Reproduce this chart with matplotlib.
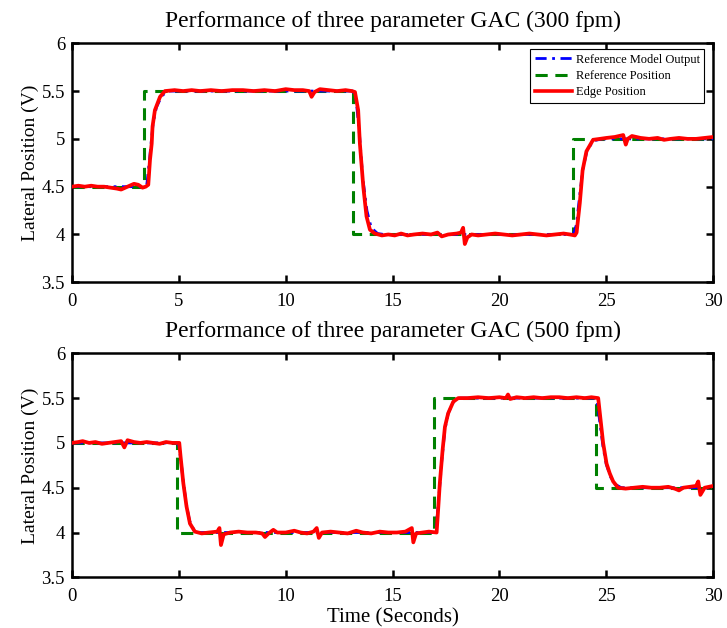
import matplotlib
matplotlib.use("Agg")
import matplotlib.pyplot as plt
from matplotlib.lines import Line2D

# ---- data ----
titles = [
    "Performance of three parameter GAC (300 fpm)",
    "Performance of three parameter GAC (500 fpm)",
]
x_ticks = [0, 5, 10, 15, 20, 25, 30]
y_ticks = [3.5, 4, 4.5, 5, 5.5, 6]
y_tick_labels = ["3.5", "4", "4.5", "5", "5.5", "6"]

# reference position (step changes)
ref_t_300 = [0, 3.38, 13.13, 23.45, 30]
ref_v_300 = [4.5, 5.5, 4.0, 5.0, 5.0]
ref_t_500 = [0, 4.90, 16.95, 24.51, 30]
ref_v_500 = [5.0, 4.0, 5.5, 4.5, 4.5]

# reference model output
model_t_300 = [0, 3.38, 3.5, 3.6, 3.7, 3.8, 3.95, 4.2, 4.5, 13.13, 13.3, 13.45,
               13.6, 13.8, 14.0, 14.3, 14.6, 23.45, 23.6, 23.75, 23.9, 24.1,
               24.4, 24.8, 30]
model_v_300 = [4.5, 4.5, 4.52, 4.72, 4.95, 5.17, 5.33, 5.45, 5.5, 5.5, 5.40, 5.05,
               4.60, 4.25, 4.07, 4.01, 4.0, 4.0, 4.10, 4.40, 4.68, 4.88,
               4.98, 5.0, 5.0]
model_t_500 = [0, 4.90, 5.0, 5.1, 5.2, 5.35, 5.5, 5.7, 6.0, 16.95, 17.05, 17.15,
               17.3, 17.45, 17.6, 17.85, 18.1, 24.51, 24.6, 24.7, 24.85, 25.0,
               25.2, 25.4, 25.7, 30]
model_v_500 = [5.0, 5.0, 4.97, 4.80, 4.58, 4.32, 4.13, 4.03, 4.0, 4.0, 4.08, 4.35,
               4.80, 5.15, 5.33, 5.46, 5.5, 5.5, 5.42, 5.22, 4.95, 4.76,
               4.62, 4.54, 4.5, 4.5]

# measured edge position
edge_t_300 = [0.0, 0.3, 0.6, 0.9, 1.2, 1.5, 1.8, 2.1, 2.3, 2.5, 2.7, 2.9, 3.1, 3.3,
              3.45, 3.57, 3.65, 3.73, 3.77, 3.88, 4.12, 4.35, 4.8, 5.2, 5.6, 6.0,
              6.5, 7.0, 7.5, 8.0, 8.5, 9.0, 9.5, 10.0, 10.4, 10.8, 11.1, 11.21,
              11.35, 11.6, 12.0, 12.4, 12.8, 13.1, 13.24, 13.39, 13.47, 13.63,
              13.78, 13.94, 14.17, 14.5, 14.8, 15.1, 15.4, 15.7, 16.0, 16.4, 16.8,
              17.1, 17.3, 17.6, 18.0, 18.2, 18.3, 18.38, 18.5, 18.7, 19.0, 19.4,
              19.8, 20.2, 20.6, 21.0, 21.4, 21.8, 22.2, 22.6, 23.0, 23.3, 23.53,
              23.61, 23.76, 23.89, 24.07, 24.38, 24.7, 25.01, 25.4, 25.79, 25.91,
              26.0, 26.2, 26.6, 27.0, 27.4, 27.7, 28.0, 28.4, 28.8, 29.2, 29.6, 30.0]
edge_v_300 = [4.50, 4.51, 4.50, 4.51, 4.50, 4.50, 4.49, 4.48, 4.47, 4.49, 4.51, 4.53,
              4.52, 4.49, 4.50, 4.52, 4.78, 4.95, 5.13, 5.30, 5.44, 5.50, 5.51,
              5.50, 5.51, 5.50, 5.51, 5.50, 5.51, 5.51, 5.50, 5.51, 5.50, 5.52,
              5.51, 5.51, 5.50, 5.44, 5.49, 5.52, 5.51, 5.50, 5.51, 5.50, 5.49,
              5.30, 4.95, 4.50, 4.19, 4.05, 4.01, 3.99, 4.00, 3.99, 4.01, 3.99,
              4.00, 4.01, 4.00, 4.02, 3.98, 4.00, 4.01, 4.02, 4.07, 3.90, 3.97,
              4.00, 3.99, 4.00, 4.01, 4.00, 3.99, 4.00, 4.01, 4.00, 3.99, 4.00,
              4.01, 4.00, 3.99, 4.02, 4.33, 4.67, 4.87, 4.99, 5.00, 5.01, 5.02,
              5.04, 4.94, 5.00, 5.03, 5.01, 5.00, 5.01, 4.99, 5.00, 5.01, 5.00,
              5.00, 5.01, 5.02]
edge_t_500 = [0.0, 0.3, 0.5, 0.8, 1.1, 1.4, 1.7, 2.0, 2.3, 2.45, 2.6, 2.9, 3.2, 3.5,
              3.8, 4.1, 4.4, 4.7, 5.02, 5.08, 5.21, 5.36, 5.52, 5.75, 6.07, 6.4,
              6.8, 6.9, 6.97, 7.1, 7.4, 7.8, 8.2, 8.6, 8.9, 9.03, 9.2, 9.42, 9.6,
              10.0, 10.4, 10.7, 11.0, 11.3, 11.45, 11.55, 11.7, 12.1, 12.5, 12.9,
              13.3, 13.6, 14.0, 14.4, 14.8, 15.2, 15.6, 15.9, 15.97, 16.1, 16.4,
              16.7, 17.06, 17.13, 17.21, 17.34, 17.45, 17.60, 17.84, 18.07, 18.5,
              19.0, 19.5, 20.0, 20.3, 20.4, 20.5, 20.8, 21.2, 21.6, 22.0, 22.4,
              22.8, 23.2, 23.6, 24.0, 24.3, 24.62, 24.73, 24.85, 25.01, 25.16,
              25.32, 25.55, 25.9, 26.3, 26.7, 27.1, 27.5, 27.9, 28.2, 28.4, 28.6,
              28.9, 29.2, 29.3, 29.4, 29.6, 29.8, 30.0]
edge_v_500 = [5.00, 5.01, 5.02, 5.00, 5.01, 4.99, 5.00, 5.01, 5.02, 4.95, 5.03, 5.01,
              5.00, 5.01, 5.00, 4.99, 5.01, 5.00, 5.00, 4.85, 4.55, 4.29, 4.10,
              4.01, 3.99, 4.00, 4.01, 4.05, 3.86, 3.98, 4.00, 4.01, 4.00, 4.00,
              3.99, 3.95, 3.99, 4.03, 4.00, 4.00, 4.02, 4.00, 3.99, 4.01, 4.05,
              3.94, 4.00, 4.01, 4.00, 3.99, 4.02, 4.00, 3.99, 4.01, 4.00, 4.00,
              4.01, 4.05, 3.89, 3.99, 4.00, 4.01, 4.00, 4.25, 4.55, 4.92, 5.18,
              5.33, 5.46, 5.50, 5.50, 5.51, 5.50, 5.51, 5.50, 5.54, 5.49, 5.51,
              5.50, 5.51, 5.50, 5.51, 5.51, 5.50, 5.51, 5.50, 5.51, 5.50, 5.26,
              5.00, 4.77, 4.66, 4.57, 4.50, 4.49, 4.50, 4.51, 4.50, 4.50, 4.51,
              4.49, 4.47, 4.50, 4.51, 4.52, 4.57, 4.42, 4.50, 4.51, 4.52]

SERIF = "Liberation Serif"
GREEN = "#008000"
DASH = (0, (4, 2.5))
DASHDOT = (0, (4, 2, 1, 2))


def draw_panel(ax, title, ref_t, ref_v, model_t, model_v, edge_t, edge_v):
    ax.plot(ref_t, ref_v, color=GREEN, lw=2.2, linestyle=DASH,
            drawstyle="steps-post", zorder=2)
    ax.plot(model_t, model_v, color="blue", lw=2.0, linestyle=DASHDOT, zorder=3)
    ax.plot(edge_t, edge_v, color="red", lw=2.7, zorder=4)

    ax.set_xlim(0, 30)
    ax.set_ylim(3.5, 6)
    ax.set_xticks(x_ticks)
    ax.set_yticks(y_ticks)
    ax.set_yticklabels(y_tick_labels)
    ax.tick_params(direction="in", top=True, right=True, length=5, width=1.8,
                   labelsize=13.5)
    ax.tick_params(axis="x", pad=8)
    ax.tick_params(axis="y", pad=5)
    for lab in ax.get_xticklabels() + ax.get_yticklabels():
        lab.set_fontfamily(SERIF)
    for sp in ax.spines.values():
        sp.set_linewidth(1.8)
    ax.set_title(title, fontsize=17, family=SERIF, pad=12)
    ax.set_ylabel("Lateral Position (V)", fontsize=14, family=SERIF, labelpad=2)


fig = plt.figure(figsize=(7.27, 6.28), dpi=100)
ax1 = fig.add_axes([0.099, 0.5505, 0.882, 0.3806])
ax2 = fig.add_axes([0.099, 0.0807, 0.882, 0.3567])

draw_panel(ax1, titles[0], ref_t_300, ref_v_300, model_t_300, model_v_300,
           edge_t_300, edge_v_300)
draw_panel(ax2, titles[1], ref_t_500, ref_v_500, model_t_500, model_v_500,
           edge_t_500, edge_v_500)
ax2.set_xlabel("Time (Seconds)", fontsize=15, family=SERIF, labelpad=2)

handles = [
    Line2D([], [], color="blue", lw=2.0, linestyle=DASHDOT),
    Line2D([], [], color=GREEN, lw=2.2, linestyle=DASH),
    Line2D([], [], color="red", lw=2.6),
]
leg = ax1.legend(handles, ["Reference Model Output", "Reference Position", "Edge Position"],
                 loc="upper right", bbox_to_anchor=(0.99, 0.985),
                 prop={"family": SERIF, "size": 9}, fancybox=False,
                 framealpha=1, edgecolor="black", handlelength=3.0,
                 handletextpad=0.3, borderpad=0.35, labelspacing=0.35,
                 borderaxespad=0.2)
leg.get_frame().set_linewidth(0.8)

fig.savefig("out.png", dpi=100)
